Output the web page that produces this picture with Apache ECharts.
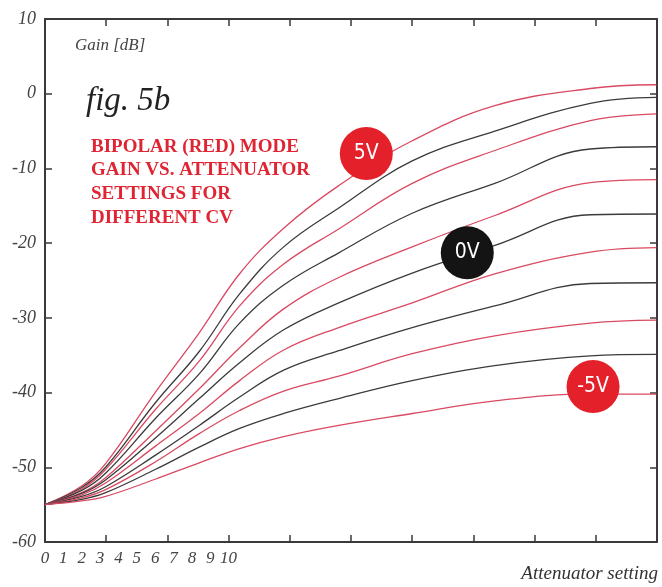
<!DOCTYPE html>
<html>
<head>
<meta charset="utf-8">
<script src="https://cdn.jsdelivr.net/npm/echarts@6/dist/echarts.min.js"></script>
<style>
  html, body { margin: 0; padding: 0; background: #fff; }
  #chart { width: 662px; height: 587px; }
</style>
</head>
<body>
<div id="chart"></div>
<script>
// attenuator setting (label units: 0..10 covers the first three tick spaces)
var xs = [0, 2, 3.3, 6, 8.4, 10.6, 13, 16, 20, 24.5, 29.7, 33.3];
var xLabels = ['0', '1', '2', '3', '4', '5', '6', '7', '8', '9', '10'];
var yTicks = [-60, -50, -40, -30, -20, -10, 0, 10];

// gain curves, top (5V) to bottom (-5V), in dB
var cv5 = [-55, -52.5, -49.5, -40.0, -32.0, -24.1, -18.0, -12.3, -6.3, -1.6, 0.7, 1.2];
var cv4 = [-55, -52.7, -50.0, -41.4, -34.5, -26.8, -20.5, -15.3, -9.0, -5.0, -1.3, -0.5];
var cv3 = [-55, -52.9, -50.3, -42.3, -35.8, -28.4, -22.8, -18.1, -12.0, -7.6, -3.6, -2.7];
var cv2 = [-55, -53.1, -50.8, -43.5, -37.5, -30.7, -25.6, -21.3, -16.0, -12.0, -7.4, -7.1];
var cv1 = [-55, -53.4, -51.4, -45.2, -39.5, -34.0, -28.8, -24.6, -20.5, -16.3, -11.9, -11.5];
var cv0 = [-55, -53.5, -51.7, -46.1, -40.8, -36.0, -31.6, -28.0, -24.0, -20.3, -16.2, -16.1];
var cvm1 = [-55, -53.7, -52.1, -47.2, -42.8, -38.4, -34.3, -31.3, -28.0, -24.1, -21.2, -20.6];
var cvm2 = [-55, -53.9, -52.6, -48.4, -44.4, -40.6, -37.0, -34.4, -31.3, -28.4, -25.4, -25.3];
var cvm3 = [-55, -54.1, -53.0, -49.3, -45.5, -42.4, -39.8, -37.8, -34.8, -32.4, -30.7, -30.3];
var cvm4 = [-55, -54.3, -53.4, -50.3, -47.3, -44.8, -42.8, -40.8, -38.4, -36.4, -35.1, -34.9];
var cvm5 = [-55, -54.5, -53.9, -51.6, -49.4, -47.5, -45.9, -44.4, -42.8, -41.1, -40.2, -40.2];

// CV badges
var badgeLabels = ['5V', '0V', '-5V'];
var badgeX = [17.5, 23.0, 29.85];
var badgeY = [-8.0, -21.3, -39.2];

var curves = [cv5, cv4, cv3, cv2, cv1, cv0, cvm1, cvm2, cvm3, cvm4, cvm5];
var RED = '#d94a62';
var DARK = '#3b3b3b';
var AXIS = '#3a3a3a';
var serif = '"Liberation Serif", "DejaVu Serif", serif';

var chart = echarts.init(document.getElementById('chart'));

var series = curves.map(function (c, i) {
  return {
    type: 'line',
    data: xs.map(function (x, j) { return [x, c[j]]; }),
    smooth: 0.4,
    showSymbol: false,
    silent: true,
    lineStyle: { color: i % 2 === 0 ? RED : DARK, width: 1.3 },
    z: 2
  };
});

series.push({
  type: 'scatter',
  symbolSize: 53,
  z: 5,
  data: badgeLabels.map(function (t, i) {
    return {
      value: [badgeX[i], badgeY[i]],
      name: t,
      itemStyle: { color: t === '0V' ? '#141414' : '#e4202a', opacity: 1 }
    };
  }),
  label: {
    show: true,
    position: 'inside',
    formatter: '{b}',
    color: '#fff',
    fontFamily: '"DejaVu Sans Condensed", "Liberation Sans Narrow", sans-serif',
    fontSize: 21
  }
});

var frameTick = { show: true, inside: true, length: 7, lineStyle: { color: AXIS, width: 1.5 } };
var frameLine = { show: true, onZero: false, lineStyle: { color: AXIS, width: 2 } };

var option = {
  animation: false,
  grid: { left: 45, right: 5, top: 19, bottom: 45, containLabel: false },
  xAxis: [
    {
      type: 'value', position: 'bottom', min: 0, max: 100 / 3, interval: 10 / 3,
      axisLine: frameLine, axisTick: frameTick, axisLabel: { show: false }, splitLine: { show: false }
    },
    {
      type: 'value', position: 'top', min: 0, max: 100 / 3, interval: 10 / 3,
      axisLine: frameLine, axisTick: frameTick, axisLabel: { show: false }, splitLine: { show: false }
    },
    {
      type: 'value', position: 'bottom', min: 0, max: 100 / 3, interval: 1,
      axisLine: { show: false, onZero: false }, axisTick: { show: false }, splitLine: { show: false },
      axisLabel: {
        show: true, margin: 8, color: '#444', fontFamily: serif, fontStyle: 'italic', fontSize: 17,
        showMaxLabel: false,
        formatter: function (v) { return xLabels[Math.round(v)] !== undefined && Math.abs(v - Math.round(v)) < 1e-6 ? xLabels[Math.round(v)] : ''; }
      }
    }
  ],
  yAxis: [
    {
      type: 'value', position: 'left', min: yTicks[0], max: yTicks[yTicks.length - 1], interval: 10,
      axisLine: frameLine, axisTick: frameTick, splitLine: { show: false },
      axisLabel: { margin: 9, color: '#444', fontFamily: serif, fontStyle: 'italic', fontSize: 18 }
    },
    {
      type: 'value', position: 'right', min: yTicks[0], max: yTicks[yTicks.length - 1], interval: 10,
      axisLine: frameLine, axisTick: frameTick, axisLabel: { show: false }, splitLine: { show: false }
    }
  ],
  graphic: [
    {
      type: 'text', left: 75, top: 37,
      style: { text: 'Gain [dB]', font: 'italic 17px ' + serif, fill: '#444' }
    },
    {
      type: 'text', left: 86, top: 85,
      style: { text: 'fig. 5b', font: 'italic 33px ' + serif, fill: '#222' }
    },
    {
      type: 'text', left: 91, top: 135,
      style: {
        text: 'BIPOLAR (RED) MODE\nGAIN VS. ATTENUATOR\nSETTINGS FOR\nDIFFERENT CV',
        font: 'bold 19px ' + serif, fill: '#df2533', lineHeight: 23.7
      }
    },
    {
      type: 'text', right: 4, top: 564,
      style: { text: 'Attenuator setting', font: 'italic 19px ' + serif, fill: '#333' }
    }
  ],
  series: series
};

chart.setOption(option);
window.addEventListener('resize', function () { chart.resize(); });
</script>
</body>
</html>
